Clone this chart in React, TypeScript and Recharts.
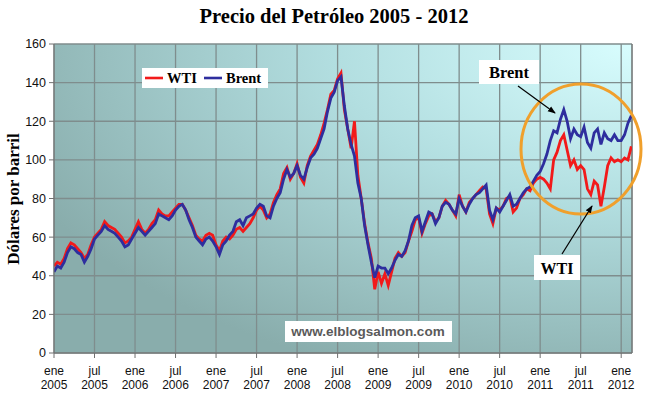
import { LineChart, Line, XAxis, YAxis, CartesianGrid, ReferenceLine } from 'recharts';

// half-month steps starting ene 2005
const brent = [
  // 2005
  42, 45, 44, 47, 52, 55, 54, 52, 51, 47, 50, 54, 59, 61, 63, 66, 64, 63, 62, 60, 58, 55, 56, 59,
  // 2006
  62, 65, 63, 61, 63, 65, 67, 72, 71, 70, 69, 71, 74, 76, 77, 74, 69, 65, 60, 58, 56, 59, 60, 58,
  // 2007
  55, 51, 56, 58, 61, 63, 68, 69, 66, 70, 71, 72, 75, 77, 76, 71, 70, 76, 80, 83, 90, 95, 91, 93,
  // 2008
  97, 92, 90, 96, 101, 103, 106, 111, 116, 125, 132, 135, 141, 143, 128, 116, 108, 102, 88, 80, 66, 56, 47, 39,
  // 2009
  45, 44, 44, 41, 44, 48, 51, 50, 53, 58, 66, 70, 71, 63, 68, 73, 72, 67, 70, 76, 78, 77, 74, 72,
  // 2010
  80, 76, 73, 77, 80, 82, 83, 85, 87, 74, 69, 75, 73, 76, 79, 82, 76, 77, 80, 83, 85, 86, 89, 92,
  // 2011
  94, 98, 103, 110, 115, 114, 121, 126, 120, 111, 116, 113, 112, 117, 109, 106, 114, 116, 108, 114, 111, 110, 113, 110,
  // 2012
  110, 113, 119, 123,
];

const wti = [
  // 2005
  45, 47, 46, 49, 54, 57, 56, 54, 52, 49, 51, 56, 60, 62, 64, 68, 66, 65, 64, 62, 60, 57, 58, 60,
  // 2006
  64, 68, 64, 62, 64, 67, 69, 74, 72, 71, 71, 73, 75, 77, 77, 74, 70, 66, 61, 59, 58, 61, 62, 61,
  // 2007
  56, 53, 58, 60, 59, 61, 64, 65, 63, 65, 67, 70, 74, 76, 74, 70, 72, 78, 82, 85, 93, 96, 90, 93,
  // 2008
  98, 91, 88, 97, 102, 105, 108, 113, 119, 126, 134, 136, 142, 145, 126, 116, 106, 120, 92, 80, 67, 57, 49, 33,
  // 2009
  42, 36, 41, 35, 42, 49, 52, 50, 52, 58, 63, 69, 70, 62, 67, 71, 72, 68, 70, 76, 79, 77, 74, 71,
  // 2010
  82, 76, 73, 78, 80, 82, 84, 86, 85, 72, 67, 75, 74, 76, 80, 81, 73, 75, 80, 82, 85, 84, 88, 90,
  // 2011
  91, 90, 88, 85, 100, 104, 110, 113, 105, 97, 100, 95, 97, 95, 85, 82, 89, 87, 76, 86, 97, 101, 99, 100,
  // 2012
  99, 101, 100, 107,
];

const xTickMonths = [0, 6, 12, 18, 24, 30, 36, 42, 48, 54, 60, 66, 72, 78, 84];
const xTickLabels = [
  'ene 2005', 'jul 2005', 'ene 2006', 'jul 2006', 'ene 2007', 'jul 2007', 'ene 2008', 'jul 2008',
  'ene 2009', 'jul 2009', 'ene 2010', 'jul 2010', 'ene 2011', 'jul 2011', 'ene 2012',
];
const yTicks = [0, 20, 40, 60, 80, 100, 120, 140, 160];

const series = [
  { key: 'wti', name: 'WTI', color: '#f21a1a' },
  { key: 'brent', name: 'Brent', color: '#2e2e9e' },
];

const data = brent.map((b, i) => ({ t: i / 2, brent: b, wti: wti[i] }));

const SANS = '"Liberation Sans", Arial, sans-serif';
const SERIF = '"Liberation Serif", "Times New Roman", serif';

const MonthTick = ({ x, y, payload }: any) => {
  const idx = xTickMonths.indexOf(payload.value);
  const [m, yr] = (xTickLabels[idx] || '').split(' ');
  return (
    <text x={x} y={y} textAnchor="middle" fontFamily={SANS} fontSize={12} fill="#111">
      <tspan x={x} dy={15}>{m}</tspan>
      <tspan x={x} dy={14}>{yr}</tspan>
    </text>
  );
};

export default function App() {
  return (
    <div style={{ position: 'absolute', left: 0, top: 0, width: 650, height: 399, background: '#fff' }}>
      <LineChart width={650} height={399} data={data} margin={{ top: 44, right: 18, bottom: 0, left: 0 }}>
        <defs>
          <radialGradient id="bgGrad" cx="1" cy="0" r="1.15">
            <stop offset="0%" stopColor="#d8fdfe" />
            <stop offset="45%" stopColor="#b2dee0" />
            <stop offset="100%" stopColor="#89adac" />
          </radialGradient>
        </defs>
        <CartesianGrid fill="url(#bgGrad)" fillOpacity={1} stroke="#7f8d8d" strokeWidth={1.3} />
        <XAxis
          type="number"
          dataKey="t"
          domain={[0, 85.6]}
          ticks={xTickMonths}
          height={46}
          tick={<MonthTick />}
          tickSize={5}
          tickLine={{ stroke: '#707070' }}
          axisLine={{ stroke: '#707070' }}
          allowDataOverflow
        />
        <YAxis
          domain={[0, 160]}
          ticks={yTicks}
          width={54}
          tickSize={5}
          tickMargin={3}
          tick={{ fontSize: 12.5, fill: '#111', fontFamily: SANS }}
          tickLine={{ stroke: '#707070' }}
          axisLine={{ stroke: '#707070' }}
        />
        <ReferenceLine x={85.6} stroke="#707070" />
        {series.map((s) => (
          <Line
            key={s.key}
            type="linear"
            dataKey={s.key}
            name={s.name}
            stroke={s.color}
            strokeWidth={2.8}
            dot={false}
            isAnimationActive={false}
          />
        ))}
      </LineChart>
      <svg width={650} height={399} style={{ position: 'absolute', left: 0, top: 0, pointerEvents: 'none' }}>
        <defs>
          <marker id="arrow" markerWidth="8" markerHeight="8" refX="7" refY="4" orient="auto" markerUnits="userSpaceOnUse">
            <path d="M0,1 L8,4 L0,7 z" fill="#000" />
          </marker>
        </defs>
        <text x={334} y={23} textAnchor="middle" fontFamily={SERIF} fontWeight="bold" fontSize={20.5} fill="#000">
          Precio del Petróleo 2005 - 2012
        </text>
        <text transform="translate(19,199) rotate(-90)" textAnchor="middle" fontFamily={SERIF} fontWeight="bold" fontSize={17} fill="#000">
          Dólares por barril
        </text>
        {/* legend */}
        <rect x={142} y={68} width={126} height={20} fill="#fff" />
        <line x1={145} y1={78} x2={163} y2={78} stroke={series[0].color} strokeWidth={2.6} />
        <text x={167} y={83} fontFamily={SERIF} fontWeight="bold" fontSize={14.5}>{series[0].name}</text>
        <line x1={204} y1={78} x2={222} y2={78} stroke={series[1].color} strokeWidth={2.6} />
        <text x={226} y={83} fontFamily={SERIF} fontWeight="bold" fontSize={14.5}>{series[1].name}</text>
        {/* highlight */}
        <ellipse cx={581} cy={149} rx={60} ry={65} fill="none" stroke="#f0a02c" strokeWidth={3} />
        <rect x={479} y={60} width={60} height={24} fill="#fff" />
        <text x={509} y={78} textAnchor="middle" fontFamily={SERIF} fontWeight="bold" fontSize={16.5}>Brent</text>
        <line x1={518} y1={86} x2={555} y2={113} stroke="#000" strokeWidth={1.2} markerEnd="url(#arrow)" />
        <rect x={534} y={255} width={46} height={25} fill="#fff" />
        <text x={557} y={274} textAnchor="middle" fontFamily={SERIF} fontWeight="bold" fontSize={16}>WTI</text>
        <line x1={562} y1={254} x2={592} y2={206} stroke="#000" strokeWidth={1.2} markerEnd="url(#arrow)" />
        {/* watermark */}
        <rect x={285} y={321} width={167} height={21} fill="#fff" />
        <text x={368} y={336} textAnchor="middle" fontFamily={SANS} fontWeight="bold" fontSize={13.5} fill="#5a5a5a">
          www.elblogsalmon.com
        </text>
      </svg>
    </div>
  );
}
